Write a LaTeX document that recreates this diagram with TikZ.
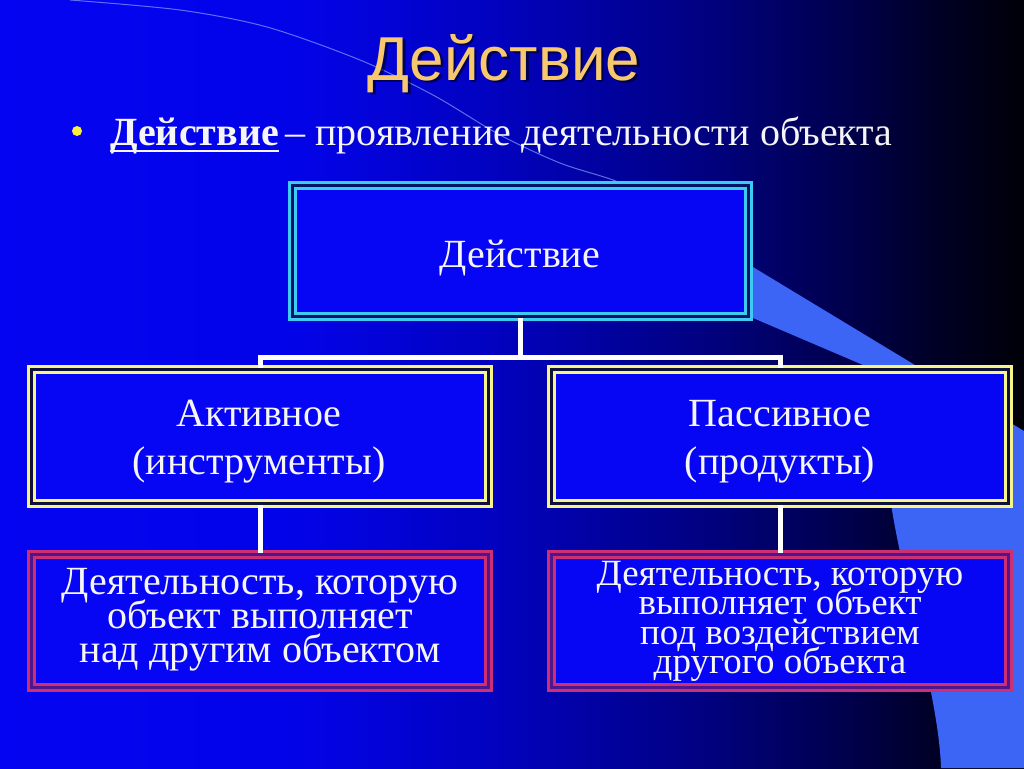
\documentclass[tikz,border=0pt]{standalone}
\usepackage{fontspec}
\setmainfont{Liberation Serif}
\newfontfamily\titlefont{Liberation Sans}
\newcommand\tightlines{\setlength{\lineskiplimit}{-60pt}\setlength{\lineskip}{0pt}}
\newcommand\myul[1]{\setbox0\hbox{#1}\rlap{\rule[-7pt]{\wd0}{2pt}}\box0}
\definecolor{bgA}{RGB}{4,4,242}
\definecolor{bgB}{RGB}{3,3,232}
\definecolor{bgC}{RGB}{2,2,190}
\definecolor{bgD}{RGB}{1,1,130}
\definecolor{bgE}{RGB}{0,0,75}
\definecolor{bgF}{RGB}{0,0,35}
\definecolor{bgG}{RGB}{0,0,8}
\definecolor{swoosh}{RGB}{60,100,245}
\definecolor{boxblue}{RGB}{6,6,245}
\definecolor{cyanline}{RGB}{61,203,245}
\definecolor{cyangap}{RGB}{0,20,100}
\definecolor{yellowline}{RGB}{245,245,140}
\definecolor{yellowgap}{RGB}{16,16,60}
\definecolor{magline}{RGB}{204,47,116}
\definecolor{maggap}{RGB}{80,20,140}
\definecolor{titlecol}{RGB}{248,200,110}
\definecolor{bulletcol}{RGB}{250,240,60}
\definecolor{faint}{RGB}{130,160,255}
\definecolor{txt}{RGB}{245,245,245}
\pgfdeclarehorizontalshading{bgshade}{100bp}{color(0bp)=(bgA); color(25bp)=(bgA); color(39.6bp)=(bgB); color(49.4bp)=(bgC); color(59.2bp)=(bgD); color(66.5bp)=(bgE); color(71bp)=(bgF); color(75bp)=(bgG); color(100bp)=(bgG)}
\tikzset{
  boxbase/.style={rectangle, inner sep=0pt, fill=boxblue, line width=3pt, double distance=3pt, minimum width=457pt},
  cyanbox/.style={boxbase, draw=cyanline, double=cyangap, minimum width=456pt, minimum height=130.5pt},
  yellowbox/.style={boxbase, draw=yellowline, double=yellowgap, minimum height=133.5pt},
  magbox/.style={boxbase, draw=magline, double=maggap, minimum height=133pt},
  conn/.style={draw=white, line width=5pt},
  lbl/.style={text=txt, inner sep=0pt, align=center, font={\fontsize{40}{48}\selectfont\tightlines}},
  lblsmall/.style={lbl, font={\fontsize{40}{34}\selectfont\tightlines}},
  lbltiny/.style={lbl, font={\fontsize{37}{29.5}\selectfont\tightlines}},
}
\begin{document}
\begin{tikzpicture}[x=1pt,y=-1pt]
\useasboundingbox (0,0) rectangle (1024,768);
% background
\shade[shading=bgshade] (0,0) rectangle (1024,768);
% faint arc line
\draw[faint, line width=1pt, opacity=0.7] plot[smooth] coordinates {(70,0) (180,10) (267,27) (360,60) (433,95) (500,135) (560,163) (613,180) (660,200)};
% swoosh
\fill[swoosh] (700,235) -- (1024,431) -- (1024,768) -- (941,768)
  .. controls (939,700) and (905,590) .. (892,510)
  .. controls (884,450) and (880,395) .. (863,365)
  -- (753,318) -- (700,290) -- cycle;
% title
\node[anchor=base, text=black, opacity=0.55, font=\titlefont\fontsize{62}{62}\selectfont] (tshadow) at (506.5,82.5) {Действие};
\node[anchor=base, text=titlecol, font=\titlefont\fontsize{62}{62}\selectfont] (title) at (504,80) {Действие};
% bullet line
\node[circle, fill=bulletcol, minimum size=10pt, inner sep=0pt] (dot) at (77,131) {};
\node[anchor=base west, text=txt, inner sep=0pt, font=\fontsize{40}{48}\selectfont] (def) at (110,145) {\myul{\textbf{Действие}}\,– проявление деятельности объекта};
% boxes
\node[cyanbox] (top) at (520,251) {};
\node[yellowbox] (act) at (260,436.7) {};
\node[yellowbox] (pas) at (780,436.7) {};
\node[magbox] (actD) at (260,621) {};
\node[magbox] (pasD) at (780,621) {};
% connectors
\coordinate (busM) at (520,357);
\coordinate (busL) at (260,357);
\coordinate (busR) at (780,357);
\draw[conn] (top) -- (busM);
\draw[conn, line cap=rect] (busL) -- (busR);
\draw[conn] (busL) -- (act);
\draw[conn] (busR) -- (pas);
\draw[conn] (act) -- (actD);
\draw[conn] (pas) -- (pasD);
% labels
\node[lbl, anchor=base] (topT) at (520,267) {Действие};
\node[lbl] (actT) at (259,441.7) {Активное\\(инструменты)};
\node[lbl] (pasT) at (780,441.7) {Пассивное\\(продукты)};
\node[lblsmall] (actDT) at (260,620) {Деятельность, которую\\объект выполняет\\над другим объектом};
\node[lbltiny] (pasDT) at (780,621.5) {Деятельность, которую\\выполняет объект\\под воздействием\\другого объекта};
\end{tikzpicture}
\end{document}
